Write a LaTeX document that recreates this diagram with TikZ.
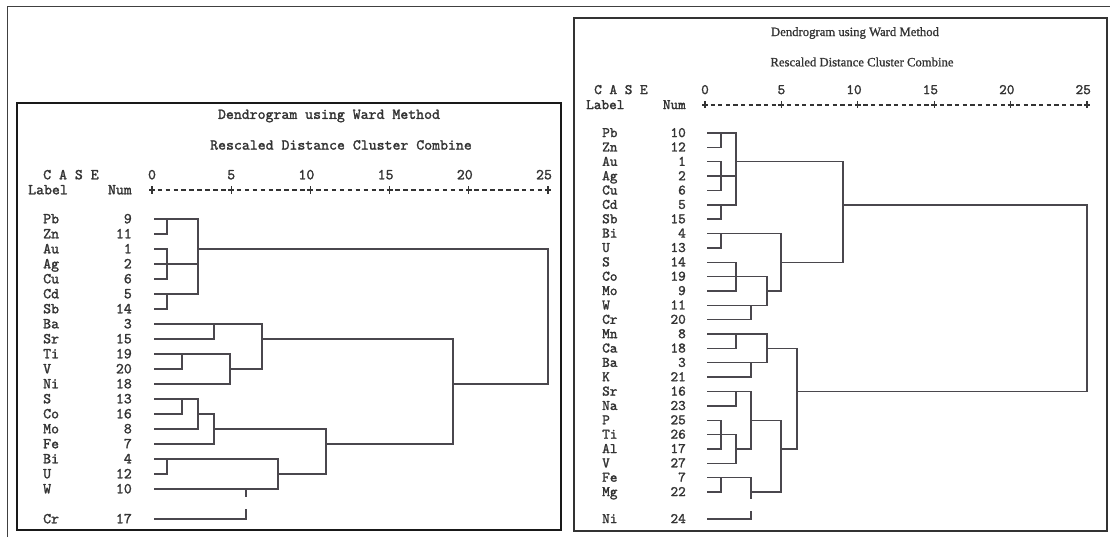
\documentclass[tikz,border=0pt]{standalone}
\usepackage{fontspec}
\newfontfamily\serifF{Liberation Serif}[FakeBold=1]
\newfontfamily\monoF{lmmono10-regular.otf}[FakeBold=1.6]
\definecolor{ink}{HTML}{333333}
\definecolor{lnc}{HTML}{4A474D}
\begin{document}
\begin{tikzpicture}[x=1pt,y=-1pt,
  dl/.style={draw=lnc, line width=1.4pt, line cap=rect},
  axl/.style={draw=ink, line width=1.1pt},
  txL/.style={font={\monoF\fontsize{15.1}{17}\selectfont}, text=ink, inner sep=0pt},
  txR/.style={font={\monoF\fontsize{14.55}{17}\selectfont}, text=ink, inner sep=0pt},
  ttR/.style={font={\serifF\fontsize{12.7}{15}\selectfont}, text=ink, inner sep=0pt},
  lw/.style={anchor=base west},
  le/.style={anchor=base east},
  lc/.style={anchor=base}]
\useasboundingbox (0,0) rectangle (1110,540);
\fill[white] (0,0) rectangle (1110,540);

% frames
\draw[draw=black!75, line width=1pt] (7,537) -- (7,7) -- (1110,7);
\draw[draw=black!90, line width=2.8pt] (17,103) rectangle (561,530);
\draw[draw=black!80, line width=2.2pt] (574,18) rectangle (1107,531);

% ================= LEFT PANEL =================
\node[txL, anchor=center] (ltitle) at (329,116) {Dendrogram using Ward Method};
\node[txL, anchor=center] (lsub) at (341,145) {Rescaled Distance Cluster Combine};
\node[txL, lw] (lcase) at (43,179.3) {C A S E};
\node[txL, lw] (llabel) at (28,194.3) {Label};
\node[txL, le] (lnum) at (132,194.3) {Num};
% axis
\draw[axl, dash pattern=on 4.5pt off 3.42pt] (149.75,190) -- (550.3,190);
\foreach \i/\t/\c in {0/0/152, 1/5/231.2, 2/10/306.4, 3/15/385.6, 4/20/464.8, 5/25/544}{
  \node[txL, lc] (lt\i) at (\c,179.3) {\t};
}
\foreach \i in {0,...,5}{
  \draw[axl] ({152+\i*79.2-3},190) -- ({152+\i*79.2+3},190);
  \draw[axl] ({152+\i*79.2},186.5) -- ({152+\i*79.2},193.5);
}
% merge x positions
\coordinate (a1) at (167,0);
\coordinate (a2) at (182,0);
\coordinate (a3) at (198,0);
\coordinate (a4) at (214,0);
\coordinate (a5) at (230,0);
\coordinate (a6) at (246,0);
\coordinate (a7) at (262,0);
\coordinate (a8) at (278,0);
\coordinate (a11) at (326,0);
\coordinate (a19) at (453,0);
\coordinate (a25) at (548,0);
% leaves
\foreach \lab/\num/\yy/\xe in {Pb/9/219/a3, Zn/11/234/a1, Au/1/249/a1, Ag/2/264/a3,
  Cu/6/279/a1, Cd/5/294/a3, Sb/14/309/a1, Ba/3/324/a7, Sr/15/339/a4, Ti/19/354/a5,
  V/20/369/a2, Ni/18/384/a5, S/13/399/a3, Co/16/414/a2, Mo/8/429/a3, Fe/7/444/a4,
  Bi/4/459/a8, U/12/474/a1, W/10/489/a8, Cr/17/519/a6}{
  \node[txL, lw] (Ll\lab) at (43,\yy+4.3) {\lab};
  \node[txL, le] (Ln\lab) at (132,\yy+4.3) {\num};
  \coordinate (Ly\lab) at (155,\yy);
  \draw[dl] (Ly\lab) -- (Ly\lab -| \xe);
}
% internal lines
\draw[dl] (LyPb -| a1) -- (LyZn -| a1);
\draw[dl] (LyAu -| a1) -- (LyCu -| a1);
\draw[dl] (LyCd -| a1) -- (LySb -| a1);
\draw[dl] (LyBi -| a1) -- (LyU -| a1);
\draw[dl] (LyPb -| a3) -- (LyCd -| a3);
\draw[dl] (LyAu -| a3) -- (LyAu -| a25);
\draw[dl] (LyAu -| a25) -- (LyNi -| a25);
\draw[dl] (LyNi -| a19) -- (LyNi -| a25);
\draw[dl] (LyBa -| a4) -- (LySr -| a4);
\draw[dl] (LyTi -| a2) -- (LyV -| a2);
\draw[dl] (LyTi -| a5) -- (LyNi -| a5);
\draw[dl] (LyV -| a5) -- (LyV -| a7);
\draw[dl] (LyBa -| a7) -- (LyV -| a7);
\draw[dl] (LySr -| a7) -- (LySr -| a19);
\draw[dl] (LyS -| a2) -- (LyCo -| a2);
\draw[dl] (LyS -| a3) -- (LyMo -| a3);
\draw[dl] (LyCo -| a3) -- (LyCo -| a4);
\draw[dl] (LyCo -| a4) -- (LyFe -| a4);
\draw[dl] (LyMo -| a4) -- (LyMo -| a11);
\draw[dl] (LyBi -| a8) -- (LyW -| a8);
\draw[dl] (LyU -| a8) -- (LyU -| a11);
\draw[dl] (LyMo -| a11) -- (LyU -| a11);
\draw[dl] (LyFe -| a11) -- (LyFe -| a19);
\draw[dl] (LySr -| a19) -- (LyFe -| a19);
\draw[dl] (LyW -| a6) -- ++(0,7);
\draw[dl] (LyCr -| a6) -- ++(0,-9);

% ================= RIGHT PANEL =================
\node[ttR, anchor=center] (rtitle) at (855,33) {Dendrogram using Ward Method};
\node[ttR, anchor=center] (rsub) at (862,62) {Rescaled Distance Cluster Combine};
\node[txR, lw] (rcase) at (594,94.1) {C A S E};
\node[txR, lw] (rlabel) at (586,109.1) {Label};
\node[txR, le] (rnum) at (686,109.1) {Num};
\draw[axl, dash pattern=on 4.3pt off 3.34pt] (702.85,105) -- (1089.2,105);
\foreach \i/\t/\c in {0/0/705, 1/5/781.4, 2/10/854, 3/15/930.4, 4/20/1006.8, 5/25/1083.2}{
  \node[txR, lc] (rt\i) at (\c,94.1) {\t};
}
\foreach \i in {0,...,5}{
  \draw[axl] ({705+\i*76.4-3},105) -- ({705+\i*76.4+3},105);
  \draw[axl] ({705+\i*76.4},101.5) -- ({705+\i*76.4},108.5);
}
\coordinate (b1) at (721,0);
\coordinate (b2) at (736,0);
\coordinate (b3) at (751,0);
\coordinate (b4) at (767,0);
\coordinate (b5) at (781,0);
\coordinate (b6) at (797,0);
\coordinate (b9) at (843,0);
\coordinate (b25) at (1087,0);
\foreach \lab/\num/\k/\xe in {Pb/10/0/b2, Zn/12/1/b1, Au/1/2/b1, Ag/2/3/b2, Cu/6/4/b1,
  Cd/5/5/b2, Sb/15/6/b1, Bi/4/7/b5, U/13/8/b1, S/14/9/b2, Co/19/10/b4, Mo/9/11/b2,
  W/11/12/b4, Cr/20/13/b3, Mn/8/14/b4, Ca/18/15/b2, Ba/3/16/b4, K/21/17/b3, Sr/16/18/b3,
  Na/23/19/b2, P/25/20/b1, Ti/26/21/b2, Al/17/22/b1, V/27/23/b2, Fe/7/24/b3, Mg/22/25/b1,
  Ni/24/26.88/b3}{
  \node[txR, lw] (Rl\lab) at (602,{133+\k*14.36+4.1}) {\lab};
  \node[txR, le] (Rn\lab) at (686,{133+\k*14.36+4.1}) {\num};
  \coordinate (Ry\lab) at (708,{133+\k*14.36});
  \draw[dl] (Ry\lab) -- (Ry\lab -| \xe);
}
\draw[dl] (RyPb -| b1) -- (RyZn -| b1);
\draw[dl] (RyAu -| b1) -- (RyCu -| b1);
\draw[dl] (RyCd -| b1) -- (RySb -| b1);
\draw[dl] (RyBi -| b1) -- (RyU -| b1);
\draw[dl] (RyP -| b1) -- (RyAl -| b1);
\draw[dl] (RyFe -| b1) -- (RyMg -| b1);
\draw[dl] (RyPb -| b2) -- (RyCd -| b2);
\draw[dl] (RyS -| b2) -- (RyMo -| b2);
\draw[dl] (RyMn -| b2) -- (RyCa -| b2);
\draw[dl] (RySr -| b2) -- (RyNa -| b2);
\draw[dl] (RyTi -| b2) -- (RyV -| b2);
\draw[dl] (RyAu -| b2) -- (RyAu -| b9);
\draw[dl] (RyAu -| b9) -- (RyS -| b9);
\draw[dl] (RyCd -| b9) -- (RyCd -| b25);
\draw[dl] (RyCo -| b4) -- (RyW -| b4);
\draw[dl] (RyMn -| b4) -- (RyBa -| b4);
\draw[dl] (RyW -| b3) -- (RyCr -| b3);
\draw[dl] (RyBa -| b3) -- (RyK -| b3);
\draw[dl] (RySr -| b3) -- (RyAl -| b3);
\draw[dl] (RyFe -| b3) -- ++(0,21);
\draw[dl] (RyNi -| b3) -- ++(0,-7);
\draw[dl] (RyMo -| b4) -- (RyMo -| b5);
\draw[dl] (RyBi -| b5) -- (RyMo -| b5);
\draw[dl] (RyS -| b5) -- (RyS -| b9);
\draw[dl] (RyCa -| b4) -- (RyCa -| b6);
\draw[dl] (RyAl -| b2) -- (RyAl -| b3);
\draw[dl] (RyP -| b3) -- (RyP -| b5);
\draw[dl] (RyMg -| b3) -- (RyMg -| b5);
\draw[dl] (RyP -| b5) -- (RyMg -| b5);
\draw[dl] (RyAl -| b5) -- (RyAl -| b6);
\draw[dl] (RyCa -| b6) -- (RyAl -| b6);
\draw[dl] (RySr -| b6) -- (RySr -| b25);
\draw[dl] (RyCd -| b25) -- (RySr -| b25);
\end{tikzpicture}
\end{document}
